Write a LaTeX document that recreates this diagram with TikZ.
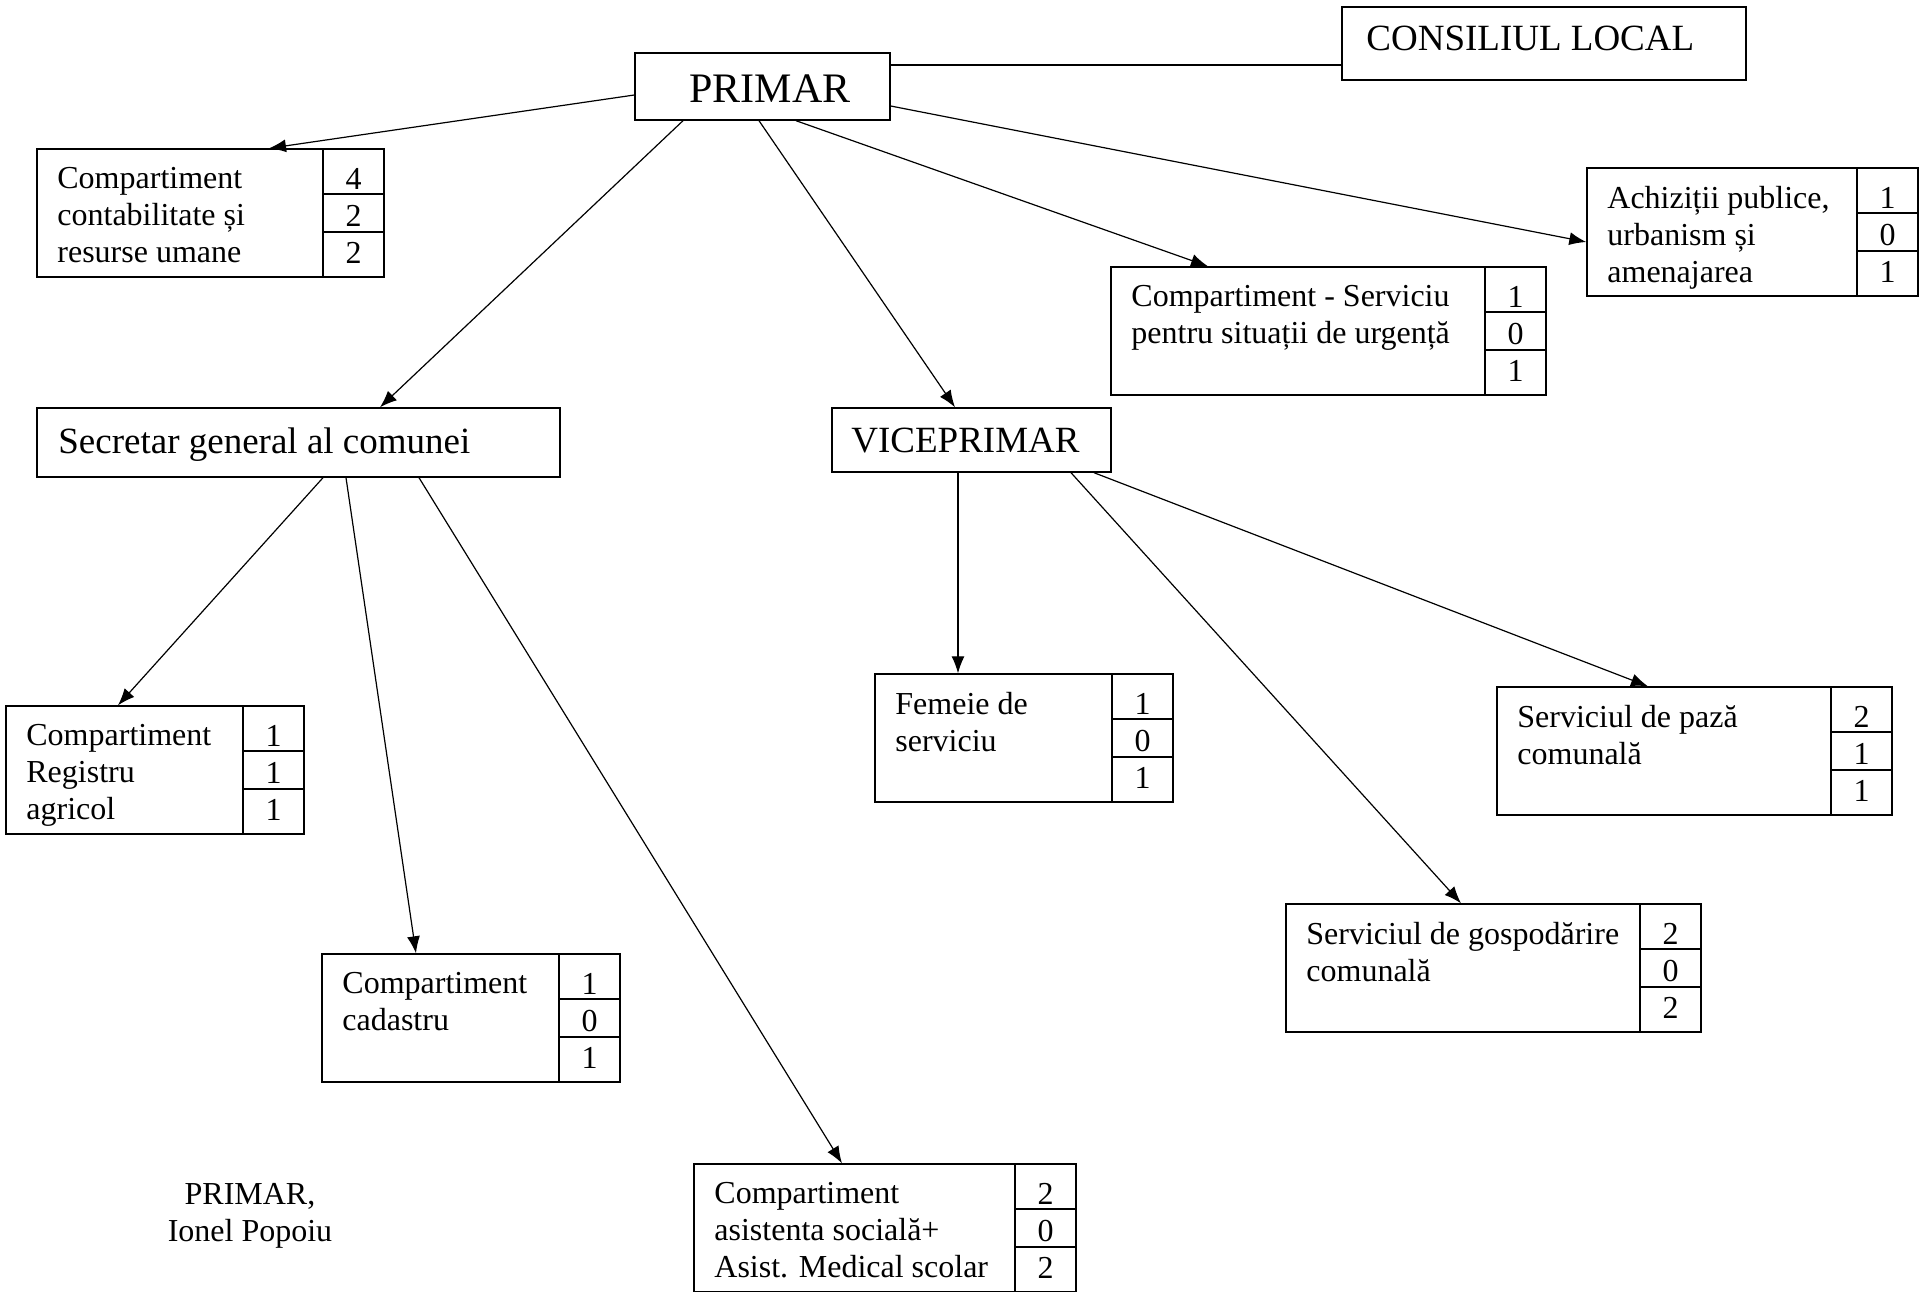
\documentclass[tikz,border=0pt]{standalone}
\usepackage{fontspec}
\setmainfont{Liberation Serif}
\usetikzlibrary{arrows.meta,fit}

\begin{document}
\begin{tikzpicture}[x=0.5pt,y=-0.5pt,
		unit/.style={draw,line width=0.7pt,inner sep=0pt},
		big/.style={inner sep=0pt,anchor=base west,font=\fontsize{18.5}{21}\selectfont},
		txt/.style={inner sep=0pt,anchor=north west,align=left,font=\fontsize{16}{18.5}\selectfont},
		num/.style={inner sep=0pt,anchor=base,font=\fontsize{16}{18.5}\selectfont},
		conn/.style={line width=0.6pt,-{Latex[length=8.5pt,width=6.5pt]}}]
		
		\useasboundingbox (0,0) rectangle (1931,1291);
		
		%conducere
		\node[unit,fit={(635,53) (890,120)}] (primar) {};
		\node[font=\fontsize{21}{24}\selectfont,inner sep=0pt,anchor=base] (primar-t) at (770,102) {PRIMAR};
		
		\node[unit,fit={(1342,7) (1746,80)}] (consiliu) {};
		\node[big] (consiliu-t) at (1366,50) {CONSILIUL LOCAL};
		
		\node[unit,fit={(37,408) (560,477)}] (secretar) {};
		\node[big] (secretar-t) at (58,453) {Secretar general al comunei};
		
		\node[unit,fit={(832,408) (1111,472)}] (vice) {};
		\node[big] (vice-t) at (851,452) {VICEPRIMAR};
		
		%compartimente cu posturi
		\foreach \nume/\xa/\ya/\xb/\eticheta/\na/\nb/\nc in {
			cont/37/149/384/{Compartiment\\contabilitate și\\resurse umane}/4/2/2,
			urgenta/1111/267/1546/{Compartiment - Serviciu\\pentru situații de urgență}/1/0/1,
			achiz/1587/168/1918/{Achiziții publice,\\urbanism și\\amenajarea}/1/0/1,
			registru/6/706/304/{Compartiment\\Registru\\agricol}/1/1/1,
			cadastru/322/954/620/{Compartiment\\cadastru}/1/0/1,
			asistenta/694/1164/1076/{Compartiment\\asistenta socială+\\Asist. Medical scolar}/2/0/2,
			femeie/875/674/1173/{Femeie de\\serviciu}/1/0/1,
			paza/1497/687/1892/{Serviciul de pază\\comunală}/2/1/1,
			gospod/1286/904/1701/{Serviciul de gospodărire\\comunală}/2/0/2}
		{
			\node[unit,fit={(\xa,\ya) (\xb,\ya+128)}] (\nume) {};
			\node[txt] (\nume-t) at (\xa+20,\ya+18) {\eticheta};
			\draw[line width=0.7pt] (\xb-61,\ya) -- (\xb-61,\ya+128);
			\foreach \r in {45,83}
			\draw[line width=0.7pt] (\xb-61,\ya+\r) -- (\xb,\ya+\r);
			\foreach[count=\i] \n in {\na,\nb,\nc}
			\node[num] (\nume-\i) at (\xb-30.5,\ya+3+37*\i) {\n};
		}
		
		%legaturi primar
		\draw[line width=1pt] (primar.east |- 0,65) -- (consiliu.west |- 0,65);
		\draw[conn] (primar.west |- 0,95) -- (cont.north -| 269,0);
		\draw[conn] (primar.south -| 683,0) -- (secretar.north -| 380,0);
		\draw[conn] (primar.south -| 759,0) -- (vice.north -| 955,0);
		\draw[conn] (primar.south -| 796,0) -- (urgenta.north -| 1208,0);
		\draw[conn] (primar.east |- 0,106) -- (achiz.west |- 0,242);
		
		%legaturi secretar
		\draw[conn] (secretar.south -| 323,0) -- (registru.north -| 118,0);
		\draw[conn] (secretar.south -| 346,0) -- (cadastru.north -| 416,0);
		\draw[conn] (secretar.south -| 419,0) -- (asistenta.north -| 842,0);
		
		%legaturi viceprimar
		\draw[conn] (vice.south -| 958,0) -- (femeie.north -| 958,0);
		\draw[conn] (vice.south -| 1071,0) -- (gospod.north -| 1461,0);
		\draw[conn] (vice.south -| 1094,0) -- (paza.north -| 1648,0);
		
		%semnatura
		\node[inner sep=0pt,anchor=north,align=center,font=\fontsize{16}{18.5}\selectfont] (semnatura) at (250,1183) {PRIMAR,\\Ionel Popoiu};
		
	\end{tikzpicture}
\end{document}
